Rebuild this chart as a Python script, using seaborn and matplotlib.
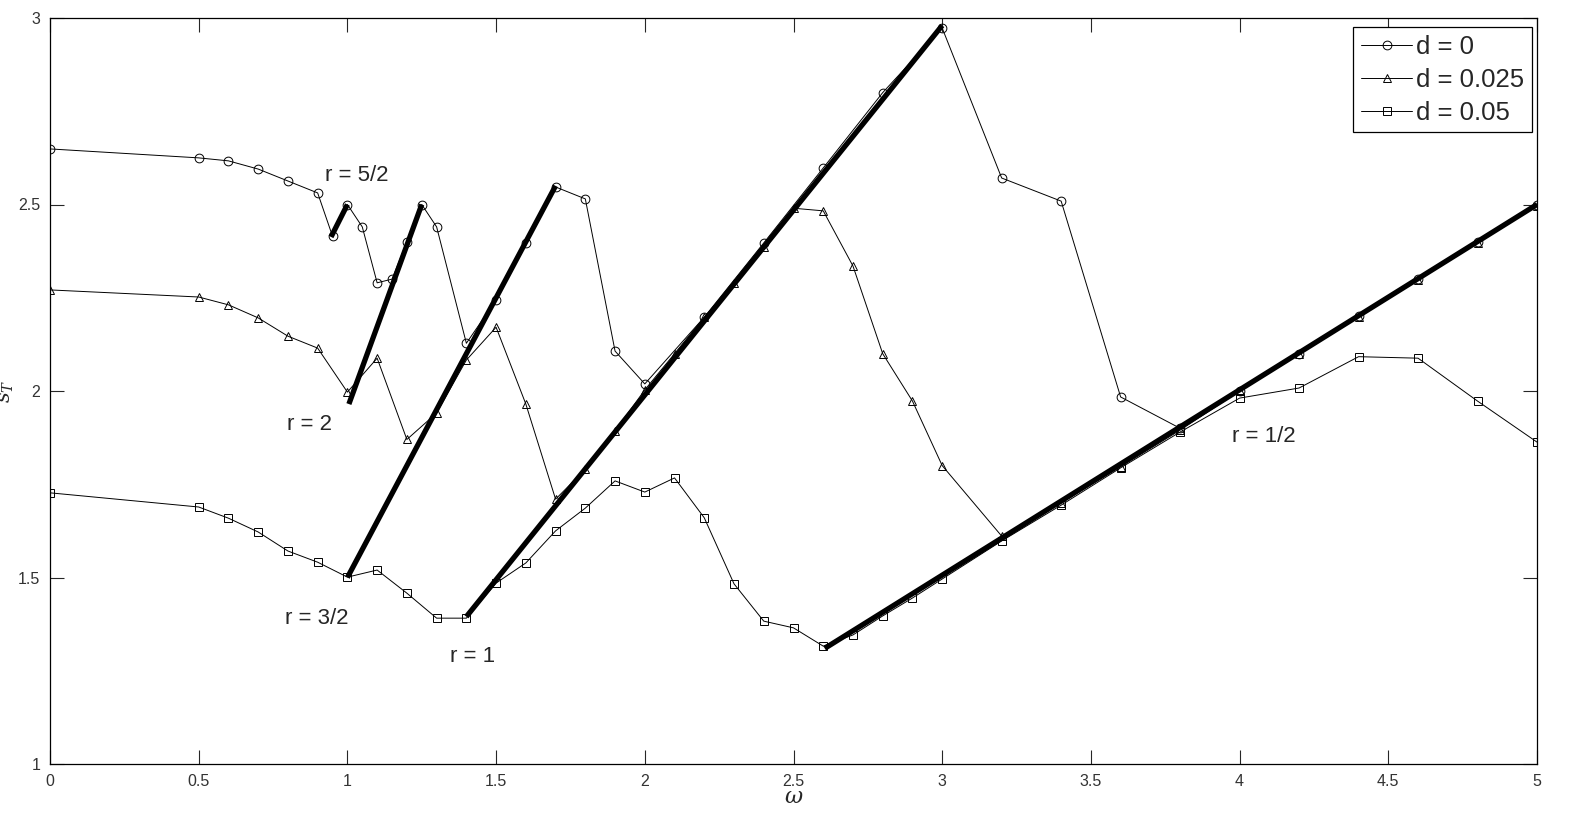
import pandas as pd
import matplotlib.pyplot as plt
import seaborn as sns
import numpy as np

# d = 0 (circles)
w_d0 = [0, 0.5, 0.6, 0.7, 0.8, 0.9, 0.95, 1.0, 1.05, 1.1, 1.15, 1.2, 1.25, 1.3,
        1.4, 1.5, 1.6, 1.7, 1.8, 1.9, 2.0, 2.2, 2.4, 2.6, 2.8, 3.0, 3.2, 3.4,
        3.6, 3.8, 4.0, 4.2, 4.4, 4.6, 4.8, 5.0]
s_d0 = [2.649, 2.625, 2.617, 2.595, 2.563, 2.531, 2.415, 2.500, 2.440, 2.290,
        2.300, 2.400, 2.500, 2.440, 2.128, 2.244, 2.397, 2.547, 2.515, 2.107,
        2.019, 2.198, 2.397, 2.598, 2.800, 2.973, 2.571, 2.509, 1.984, 1.900,
        2.000, 2.100, 2.200, 2.300, 2.400, 2.500]

# d = 0.025 (triangles)
w_d1 = [0, 0.5, 0.6, 0.7, 0.8, 0.9, 1.0, 1.1, 1.2, 1.3, 1.4, 1.5, 1.6, 1.7,
        1.8, 1.9, 2.0, 2.1, 2.2, 2.3, 2.4, 2.5, 2.6, 2.7, 2.8, 2.9, 3.0, 3.2,
        3.4, 3.6, 3.8, 4.0, 4.2, 4.4, 4.6, 4.8, 5.0]
s_d1 = [2.271, 2.252, 2.231, 2.196, 2.147, 2.115, 1.997, 2.088, 1.870, 1.941,
        2.083, 2.171, 1.965, 1.710, 1.790, 1.893, 2.003, 2.100, 2.198, 2.290,
        2.386, 2.490, 2.483, 2.335, 2.100, 1.973, 1.800, 1.611, 1.700, 1.797,
        1.895, 2.000, 2.099, 2.198, 2.298, 2.397, 2.496]

# d = 0.05 (squares)
w_d2 = [0, 0.5, 0.6, 0.7, 0.8, 0.9, 1.0, 1.1, 1.2, 1.3, 1.4, 1.5, 1.6, 1.7,
        1.8, 1.9, 2.0, 2.1, 2.2, 2.3, 2.4, 2.5, 2.6, 2.7, 2.8, 2.9, 3.0, 3.2,
        3.4, 3.6, 3.8, 4.0, 4.2, 4.4, 4.6, 4.8, 5.0]
s_d2 = [1.727, 1.689, 1.659, 1.622, 1.571, 1.541, 1.501, 1.520, 1.458, 1.391,
        1.391, 1.485, 1.539, 1.625, 1.686, 1.759, 1.729, 1.767, 1.660, 1.483,
        1.383, 1.365, 1.316, 1.346, 1.397, 1.445, 1.496, 1.598, 1.694, 1.794,
        1.890, 1.981, 2.008, 2.092, 2.088, 1.973, 1.863]

# resonance lines (thick): start / end points
res_labels = ['r = 5/2', 'r = 2', 'r = 3/2', 'r = 1', 'r = 1/2']
res_w0 = [0.945, 1.005, 1.0, 1.4, 2.605]
res_s0 = [2.413, 1.965, 1.5, 1.395, 1.31]
res_w1 = [1.0, 1.25, 1.7, 3.0, 5.0]
res_s1 = [2.5, 2.5, 2.55, 2.98, 2.5]
# where the r labels sit
lab_w = [0.925, 0.797, 0.79, 1.345, 3.974]
lab_s = [2.579, 1.909, 1.391, 1.287, 1.877]

series = [
    ('d = 0', w_d0, s_d0, 'o'),
    ('d = 0.025', w_d1, s_d1, '^'),
    ('d = 0.05', w_d2, s_d2, 's'),
]

sns.set_style('ticks')
plt.rcParams['font.family'] = ['Liberation Sans', 'DejaVu Sans']
plt.rcParams['mathtext.fontset'] = 'dejavuserif'

fig = plt.figure(figsize=(15.7, 8.17), dpi=100)
ax = fig.add_axes([50 / 1570, 1 - 764 / 817, 1487 / 1570, 746 / 817])

for name, w, s, mk in series:
    df = pd.DataFrame({'w': w, 's': s})
    sns.lineplot(data=df, x='w', y='s', ax=ax, color='black', linewidth=0.7,
                 marker=mk, markersize=6.3, markerfacecolor='none',
                 markeredgecolor='black', markeredgewidth=0.7, label=name)

for i in range(len(res_labels)):
    df = pd.DataFrame({'w': [res_w0[i], res_w1[i]], 's': [res_s0[i], res_s1[i]]})
    sns.lineplot(data=df, x='w', y='s', ax=ax, color='black', linewidth=3.8,
                 legend=False, solid_capstyle='butt')
    ax.text(lab_w[i], lab_s[i], res_labels[i], fontsize=16, ha='left', va='center')

ax.set_xlim(0, 5)
ax.set_ylim(1, 3)
ax.set_xticks(np.arange(0, 5.01, 0.5))
ax.set_xticklabels(['0', '0.5', '1', '1.5', '2', '2.5', '3', '3.5', '4', '4.5', '5'])
ax.set_yticks([1, 1.5, 2, 2.5, 3])
ax.set_yticklabels(['1', '1.5', '2', '2.5', '3'])
ax.tick_params(direction='in', length=10, width=0.8, top=True, right=True,
               labelsize=11.5, labelcolor='#333333', pad=7)
for sp in ax.spines.values():
    sp.set_linewidth(0.9)
    sp.set_color('black')

ax.set_xlabel(r'$\omega$', fontsize=16, labelpad=-1)
ax.set_ylabel(r'$s_T$', fontsize=15)
ax.yaxis.set_label_coords(-34 / 1487, 0.5)

leg = ax.legend(loc='upper right', fontsize=18.5, frameon=True, fancybox=False,
                edgecolor='black', framealpha=1, handlelength=2.0,
                handletextpad=0.15, labelspacing=0.35, borderpad=0.3,
                borderaxespad=0, bbox_to_anchor=(1532 / 1570, 1 - 27 / 817),
                bbox_transform=fig.transFigure)
leg.get_frame().set_linewidth(0.9)

fig.savefig('out.png', dpi=100)
